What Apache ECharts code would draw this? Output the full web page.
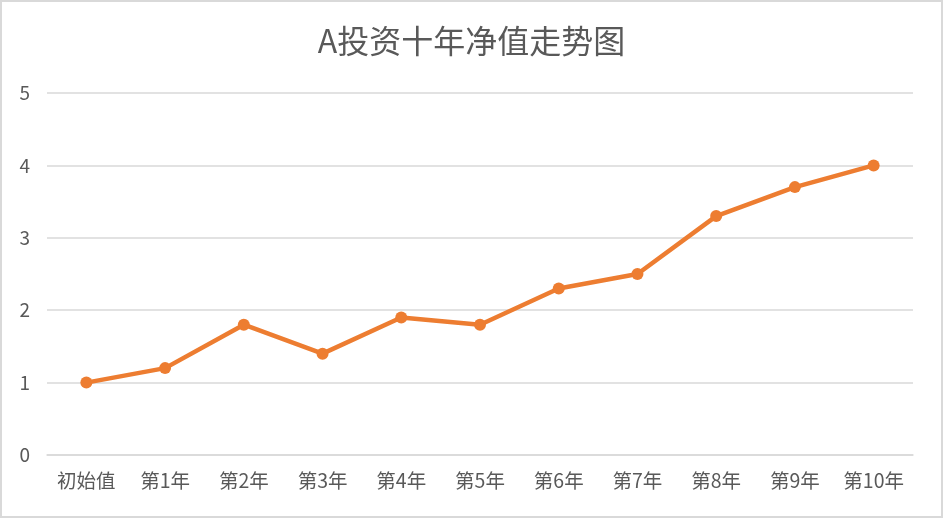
<!DOCTYPE html>
<html><head><meta charset="utf-8">
<script src="https://cdn.jsdelivr.net/npm/echarts@6/dist/echarts.min.js"></script>
<style>
html,body{margin:0;padding:0;background:#fff;}
#c{width:939px;height:514px;border:2px solid #d9d9d9;}
</style></head>
<body><div id="c"></div>
<script>
const titleText = 'A投资十年净值走势图';
const categories = ['初始值','第1年','第2年','第3年','第4年','第5年','第6年','第7年','第8年','第9年','第10年'];
const netValues = [1, 1.2, 1.8, 1.4, 1.9, 1.8, 2.3, 2.5, 3.3, 3.7, 4.0];
const font = '"Noto Sans CJK SC", "Microsoft YaHei", sans-serif';
const chart = echarts.init(document.getElementById('c'));
chart.setOption({
  animation: false,
  title: {text: titleText, left: 'center', top: 18,
    textStyle: {fontFamily: font, fontSize: 32, fontWeight: 'normal', color: '#595959'}},
  grid: {left: 45, right: 28, top: 91, bottom: 61},
  xAxis: {type: 'category', data: categories, boundaryGap: true,
    axisLine: {show: true, lineStyle: {color: '#d9d9d9', width: 1.5}},
    axisTick: {show: false},
    axisLabel: {interval: 0, fontFamily: font, fontSize: 19.5, color: '#595959', margin: 16}},
  yAxis: {type: 'value', min: 0, max: 5, interval: 1,
    axisLine: {show: false}, axisTick: {show: false},
    splitLine: {lineStyle: {color: '#d9d9d9', width: 1.5}},
    axisLabel: {fontFamily: font, fontSize: 19, color: '#595959', margin: 17}},
  series: [{type: 'line', data: netValues, symbol: 'circle', symbolSize: 12,
    lineStyle: {color: '#ED7D31', width: 4.5},
    itemStyle: {color: '#ED7D31'}}]
});
</script></body></html>
